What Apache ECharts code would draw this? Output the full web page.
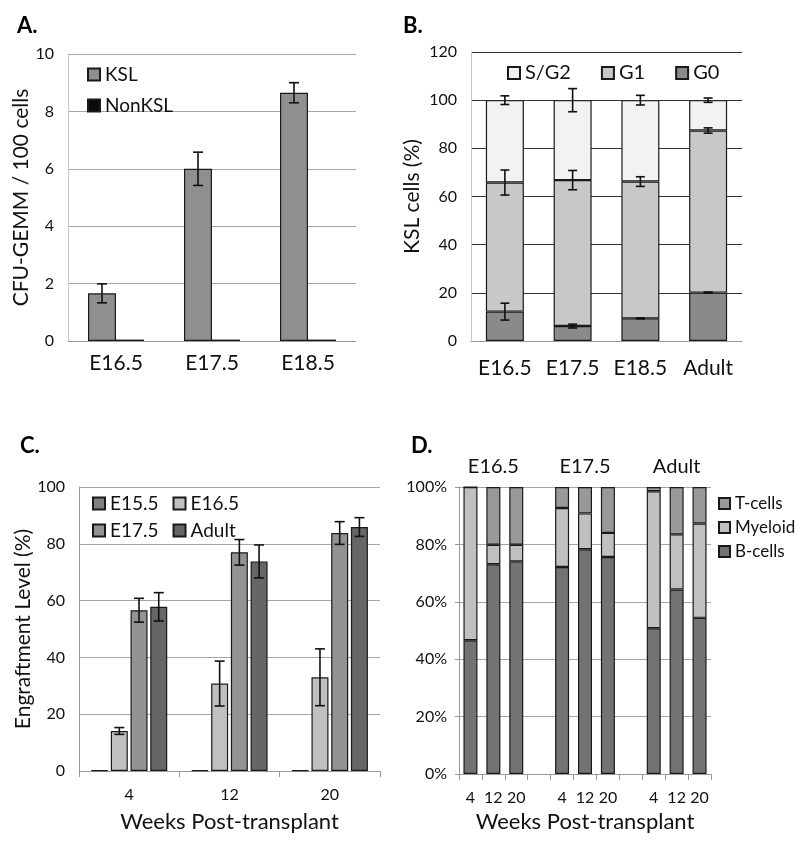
<!DOCTYPE html>
<html>
<head>
<meta charset="utf-8">
<script src="https://cdn.jsdelivr.net/npm/echarts@6/dist/echarts.min.js"></script>
<style>
  html, body { margin: 0; padding: 0; background: #fff; }
  #main { width: 800px; height: 849px; }
</style>
</head>
<body>
<div id="main"></div>
<script>
// panel A
var aCats = ['E16.5', 'E17.5', 'E18.5'];
var aKsl = [1.66, 6.0, 8.65];
var aKslErr = [0.33, 0.58, 0.35];
var aNonKsl = [0.05, 0.05, 0.05];

// panel B
var bCats = ['E16.5', 'E17.5', 'E18.5', 'Adult'];
var bG0 = [12.2, 6.2, 9.4, 20.1];
var bG1 = [53.6, 60.6, 56.8, 67.3];
var bSG2 = [34.2, 33.2, 33.8, 12.6];
var bG0Err = [3.5, 0.8, 0.2, 0.2];
var bG1Err = [5.2, 4.0, 2.0, 1.1];
var bSG2Err = [1.8, 4.8, 2.0, 0.9];

// panel C
var cCats = ['4', '12', '20'];
var cE155 = [0.2, 0.2, 0.2];
var cE165 = [14.1, 30.8, 33.0];
var cE165Err = [1.2, 7.9, 10.0];
var cE175 = [56.6, 77.0, 83.8];
var cE175Err = [4.2, 4.5, 4.0];
var cAdult = [57.8, 73.8, 85.9];
var cAdultErr = [5.0, 5.8, 3.3];

// panel D
var dCats = ['4', '12', '20', '', '4', '12', '20', '', '4', '12', '20'];
var dGroups = ['', 'E16.5', '', '', '', 'E17.5', '', '', '', 'Adult', ''];
var dB = [46.6, 73.1, 74.1, '-', 72.1, 78.3, 75.6, '-', 50.8, 64.3, 54.4];
var dM = [53.4, 6.8, 5.8, '-', 20.6, 12.5, 8.4, '-', 47.7, 19.2, 32.9];
var dT = [0, 20.1, 20.1, '-', 7.3, 9.2, 16.0, '-', 1.5, 16.5, 12.7];

var FONT = 'Lato';
var EDGE = '#1a1a1a';

function errRender(offset, cap) {
  return function (params, api) {
    var c = api.value(0), v = api.value(1), e = api.value(2);
    var top = api.coord([c, v + e]);
    var bot = api.coord([c, v - e]);
    var x = top[0] + offset;
    var st = { stroke: '#111', lineWidth: 1.6 };
    return {
      type: 'group',
      children: [
        { type: 'line', shape: { x1: x, y1: top[1], x2: x, y2: bot[1] }, style: st },
        { type: 'line', shape: { x1: x - cap, y1: top[1], x2: x + cap, y2: top[1] }, style: st },
        { type: 'line', shape: { x1: x - cap, y1: bot[1], x2: x + cap, y2: bot[1] }, style: st }
      ]
    };
  };
}

function errData(centers, errs) {
  var out = [];
  for (var i = 0; i < centers.length; i++) {
    out.push([i, centers[i], errs[i]]);
  }
  return out;
}

function cum(arrs) {
  var out = [];
  for (var i = 0; i < arrs[0].length; i++) {
    var s = 0;
    for (var k = 0; k < arrs.length; k++) s += arrs[k][i];
    out.push(s);
  }
  return out;
}

function errSeries(ax, data, offset, cap) {
  return {
    type: 'custom', xAxisIndex: ax, yAxisIndex: ax, z: 10,
    renderItem: errRender(offset, cap), data: data, silent: true
  };
}

function bar(name, ax, data, color, width, extra) {
  var s = {
    name: name, type: 'bar', xAxisIndex: ax, yAxisIndex: ax,
    data: data, barWidth: width,
    itemStyle: { color: color, borderColor: EDGE, borderWidth: 1.2 },
    animation: false
  };
  for (var k in extra) s[k] = extra[k];
  return s;
}

var tickLbl = { fontFamily: FONT, fontSize: 16, color: '#111' };
var catLbl = { fontFamily: FONT, fontSize: 21, color: '#111' };

var myChart = echarts.init(document.getElementById('main'));

var option = {
  animation: false,
  backgroundColor: '#fff',
  title: [
    { text: 'A.', left: 12, top: 10, textStyle: { fontFamily: FONT, fontWeight: 'bold', fontSize: 22, color: '#000' } },
    { text: 'B.', left: 398, top: 10, textStyle: { fontFamily: FONT, fontWeight: 'bold', fontSize: 22, color: '#000' } },
    { text: 'C.', left: 15, top: 430, textStyle: { fontFamily: FONT, fontWeight: 'bold', fontSize: 22, color: '#000' } },
    { text: 'D.', left: 406, top: 430, textStyle: { fontFamily: FONT, fontWeight: 'bold', fontSize: 22, color: '#000' } }
  ],
  legend: [
    {
      data: ['KSL', 'NonKSL'], orient: 'vertical', left: 82, top: 60, itemGap: 12,
      icon: 'rect', itemWidth: 12, itemHeight: 12, selectedMode: false,
      textStyle: { fontFamily: FONT, fontSize: 19, color: '#111' }
    },
    {
      data: ['S/G2', 'G1', 'G0'], orient: 'horizontal', left: 502, top: 58, itemGap: 30,
      icon: 'rect', itemWidth: 12, itemHeight: 12, selectedMode: false,
      textStyle: { fontFamily: FONT, fontSize: 20, color: '#111' }
    },
    {
      data: ['E15.5', 'E16.5'], orient: 'horizontal', left: 87, top: 489, itemGap: 14,
      icon: 'rect', itemWidth: 12, itemHeight: 12, selectedMode: false,
      textStyle: { fontFamily: FONT, fontSize: 19, color: '#111' }
    },
    {
      data: ['E17.5', 'Adult'], orient: 'horizontal', left: 87, top: 516, itemGap: 14,
      icon: 'rect', itemWidth: 12, itemHeight: 12, selectedMode: false,
      textStyle: { fontFamily: FONT, fontSize: 19, color: '#111' }
    },
    {
      data: ['T-cells', 'Myeloid', 'B-cells'], orient: 'vertical', left: 713, top: 490, itemGap: 7,
      icon: 'rect', itemWidth: 11, itemHeight: 11, selectedMode: false,
      textStyle: { fontFamily: FONT, fontSize: 17, color: '#111' }
    }
  ],
  grid: [
    { left: 68, top: 54, width: 288, height: 287 },
    { left: 471, top: 52, width: 271, height: 289 },
    { left: 79, top: 487, width: 301, height: 284 },
    { left: 459, top: 487, width: 252, height: 287 }
  ],
  xAxis: [
    {
      gridIndex: 0, type: 'category', data: aCats,
      axisLine: { lineStyle: { color: '#999' } }, axisTick: { show: false },
      axisLabel: Object.assign({ margin: 12, interval: 0 }, catLbl)
    },
    {
      gridIndex: 1, type: 'category', data: bCats,
      axisLine: { lineStyle: { color: '#999' } }, axisTick: { show: false },
      axisLabel: Object.assign({ margin: 17, interval: 0 }, catLbl)
    },
    {
      gridIndex: 2, type: 'category', data: cCats,
      axisLine: { lineStyle: { color: '#999' } },
      axisTick: { show: true, length: 6, lineStyle: { color: '#999' } },
      axisLabel: Object.assign({ margin: 16, interval: 0 }, tickLbl),
      name: 'Weeks Post-transplant', nameLocation: 'middle', nameGap: 40,
      nameTextStyle: { fontFamily: FONT, fontSize: 22, color: '#111' }
    },
    {
      gridIndex: 3, type: 'category', data: dCats,
      axisLine: { lineStyle: { color: '#999' } },
      axisTick: { show: true, length: 6, lineStyle: { color: '#999' } },
      axisLabel: Object.assign({ margin: 16, interval: 0 }, tickLbl),
      name: 'Weeks Post-transplant', nameLocation: 'middle', nameGap: 37,
      nameTextStyle: { fontFamily: FONT, fontSize: 22, color: '#111' }
    },
    {
      gridIndex: 3, type: 'category', data: dGroups, position: 'top',
      axisLine: { show: false }, axisTick: { show: false },
      axisLabel: { interval: 0, margin: 10, fontFamily: FONT, fontSize: 20, color: '#111' }
    }
  ],
  yAxis: [
    {
      gridIndex: 0, type: 'value', min: 0, max: 10, interval: 2,
      axisLine: { show: true, lineStyle: { color: '#c8c8c8' } }, axisTick: { show: false },
      splitLine: { lineStyle: { color: '#a6a6a6' } },
      axisLabel: Object.assign({ margin: 14 }, tickLbl),
      name: 'CFU-GEMM / 100 cells', nameLocation: 'middle', nameGap: 35,
      nameTextStyle: { fontFamily: FONT, fontSize: 21, color: '#111' }
    },
    {
      gridIndex: 1, type: 'value', min: 0, max: 120, interval: 20,
      axisLine: { show: true, lineStyle: { color: '#c8c8c8' } }, axisTick: { show: false },
      splitLine: { lineStyle: { color: '#333' } },
      axisLabel: Object.assign({ margin: 14 }, tickLbl),
      name: 'KSL cells (%)', nameLocation: 'middle', nameGap: 48,
      nameTextStyle: { fontFamily: FONT, fontSize: 21, color: '#111' }
    },
    {
      gridIndex: 2, type: 'value', min: 0, max: 100, interval: 20,
      axisLine: { show: true, lineStyle: { color: '#999' } }, axisTick: { show: false },
      splitLine: { lineStyle: { color: '#a6a6a6' } },
      axisLabel: Object.assign({ margin: 14 }, tickLbl),
      name: 'Engraftment Level (%)', nameLocation: 'middle', nameGap: 40,
      nameTextStyle: { fontFamily: FONT, fontSize: 21, color: '#111' }
    },
    {
      gridIndex: 3, type: 'value', min: 0, max: 100, interval: 20,
      axisLine: { show: true, lineStyle: { color: '#999' } },
      axisTick: { show: true, length: 4, lineStyle: { color: '#999' } },
      splitLine: { lineStyle: { color: '#a6a6a6' } },
      axisLabel: Object.assign({ margin: 12, formatter: '{value}%' }, tickLbl)
    }
  ],
  series: [
    // A
    bar('KSL', 0, aKsl, '#8f8f8f', 28, { barGap: '0%' }),
    bar('NonKSL', 0, aNonKsl, '#0a0a0a', 28, { barGap: '0%' }),
    errSeries(0, errData(aKsl, aKslErr), -14, 5),
    // B
    bar('G0', 1, bG0, '#8a8a8a', 38, { stack: 'b' }),
    bar('G1', 1, bG1, '#c8c8c8', 38, { stack: 'b' }),
    bar('S/G2', 1, bSG2, '#f2f2f2', 38, { stack: 'b' }),
    errSeries(1, errData(bG0, bG0Err), 0, 4.5),
    errSeries(1, errData(cum([bG0, bG1]), bG1Err), 0, 4.5),
    errSeries(1, errData(cum([bG0, bG1, bSG2]), bSG2Err), 0, 4.5),
    // C
    bar('E15.5', 2, cE155, '#7f7f7f', 17, { barGap: '16%' }),
    bar('E16.5', 2, cE165, '#c0c0c0', 17, { barGap: '16%' }),
    bar('E17.5', 2, cE175, '#939393', 17, { barGap: '16%' }),
    bar('Adult', 2, cAdult, '#666666', 17, { barGap: '16%' }),
    errSeries(2, errData(cE165, cE165Err), -0.5 * 17 * 1.16, 5),
    errSeries(2, errData(cE175, cE175Err), 0.5 * 17 * 1.16, 5),
    errSeries(2, errData(cAdult, cAdultErr), 1.5 * 17 * 1.16, 5),
    // D
    bar('B-cells', 3, dB, '#737373', 14, { stack: 'd' }),
    bar('Myeloid', 3, dM, '#c0c0c0', 14, { stack: 'd' }),
    bar('T-cells', 3, dT, '#999999', 14, { stack: 'd' })
  ]
};

myChart.setOption(option);
</script>
</body>
</html>
